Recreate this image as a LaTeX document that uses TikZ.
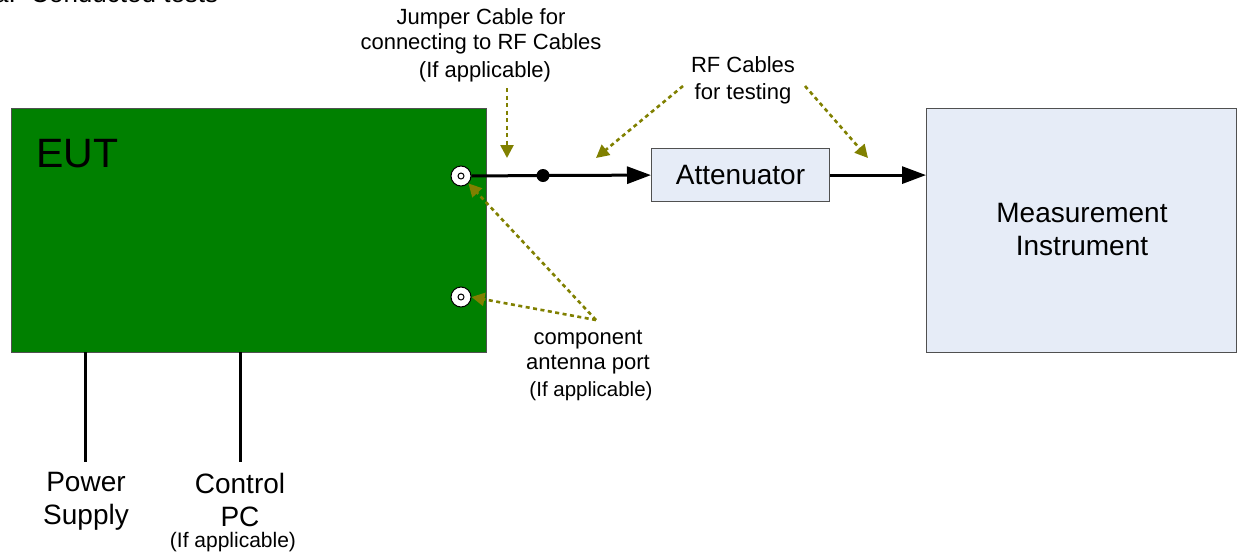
\documentclass[tikz,border=0pt]{standalone}
\usepackage{fontspec}
\setmainfont{Liberation Sans}
\usetikzlibrary{arrows.meta}
\definecolor{eutgreen}{RGB}{0,128,0}
\definecolor{boxblue}{RGB}{230,236,247}
\definecolor{boxedge}{RGB}{80,80,80}
\definecolor{callout}{RGB}{128,128,0}
\tikzset{
  box/.style={draw=boxedge, line width=1.2pt, inner sep=0pt},
  bigtxt/.style={font=\fontsize{28}{33}\selectfont, align=center, inner sep=0pt},
  smalltxt/.style={font=\fontsize{22}{25}\selectfont, align=center, inner sep=0pt},
  cable/.style={line width=3pt, black},
  cablearrow/.style={cable, -{Triangle[length=24pt,width=17pt]}},
  note/.style={callout, line width=2.6pt, dash pattern=on 4pt off 3.5pt, -{Triangle[length=13pt,width=13pt]}},
  port/.style={circle, draw=black, fill=white, line width=1pt, minimum size=20pt, inner sep=0pt},
  portin/.style={circle, draw=black, line width=1pt, minimum size=6pt, inner sep=0pt},
}
\begin{document}
\begin{tikzpicture}[x=1pt,y=-1pt]
\useasboundingbox (0,0) rectangle (1237,552);
\clip (0,0) rectangle (1237,552);
% title (clipped at the top)
\node[anchor=base west, inner sep=0pt, font=\fontsize{26}{31}\selectfont] (title) at (-6,2.5) {a.\ \ Conducted tests};
% EUT
\node[box, fill=eutgreen, minimum width=475pt, minimum height=244pt, anchor=north west] (eut) at (11,108) {};
\node[anchor=base west, inner sep=0pt, font=\fontsize{41}{46}\selectfont] (euttxt) at (36,167) {EUT};
% ports
\node[port] (p1) at (461,176) {};
\node[portin] (p1i) at (p1) {};
\node[port] (p2) at (461,297) {};
\node[portin] (p2i) at (p2) {};
% attenuator
\node[box, fill=boxblue, minimum width=178pt, minimum height=53pt, anchor=north west] (att) at (651,148) {};
\node[bigtxt] (atttxt) at (740.5,175) {Attenuator};
% measurement instrument
\node[box, fill=boxblue, minimum width=310pt, minimum height=244pt, anchor=north west] (meas) at (926,108) {};
\node[bigtxt] (meastxt) at (1082,229) {Measurement\\Instrument};
% cable dot
\node[circle, fill=black, minimum size=13pt, inner sep=0pt] (dot) at (543,175.5) {};
% cables
\draw[cable] (p1.east) -- (dot.center);
\draw[cablearrow] (dot.center) -- (att.west);
\draw[cablearrow] (att.east) -- (meas.west |- att.east);
% bottom leads
\coordinate (psTop) at (85,352);
\coordinate (pcTop) at (240,352);
\node[bigtxt] (ps) at (86,501.5) {Power\\Supply};
\node[bigtxt] (pc) at (240,500) {Control\\PC};
\node[smalltxt, font=\fontsize{21}{24}\selectfont] (pcif) at (233,542) {(If applicable)};
\draw[cable] (psTop) -- (85,462);
\draw[cable] (pcTop) -- (240,462);
% labels
\node[smalltxt] (jumper) at (481,45) {Jumper Cable for\\connecting to RF Cables\\[3pt]\hspace*{8pt}(If applicable)};
\node[smalltxt] (rf) at (743,80.5) {RF Cables\\[2pt]for testing};
\node[smalltxt] (comp) at (588,366) {component\\antenna port\\[2pt]\hspace*{6pt}{\fontsize{20.5}{24}\selectfont (If applicable)}};
% callout arrows
\coordinate (j0) at (507,88);
\coordinate (j1) at (507,158);
\draw[note] (j0) -- (j1);
\coordinate (r0) at (683,86);
\coordinate (r1) at (596,158);
\draw[note] (r0) -- (r1);
\coordinate (r2) at (805,86);
\coordinate (r3) at (868,158);
\draw[note] (r2) -- (r3);
\coordinate (c0) at (596,320);
\draw[note] (c0) -- (p1.-45);
\draw[note] (c0) -- (p2.east);
\end{tikzpicture}
\end{document}
